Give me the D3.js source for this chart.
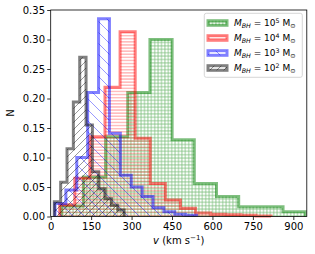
<!DOCTYPE html>
<html><head><meta charset="utf-8">
<script src="https://cdn.jsdelivr.net/npm/d3@7"></script>
<style>body{margin:0;background:#fff}svg{display:block}</style>
</head><body>
<script>
const W = 315, H = 254;
const xTicks = [0, 150, 300, 450, 600, 750, 900];
const yTicks = [0, 0.05, 0.10, 0.15, 0.20, 0.25, 0.30, 0.35];
const legendExponents = ["5", "4", "3", "2"];
const greenEdges = [38.9, 121.2, 203.5, 285.8, 368.1, 450.4, 532.7, 615.0, 697.3, 779.6, 861.9, 944.2];
const greenHeights = [0.018, 0.067, 0.135, 0.21, 0.30, 0.13, 0.056, 0.034, 0.0166, 0.0166, 0.008];
const redEdges = [33.4, 89.4, 145.4, 201.4, 257.4, 313.4, 369.4, 425.4, 481.4, 537.4, 593.4, 649.4, 705.4, 761.4, 817.4];
const redHeights = [0.02, 0.065, 0.135, 0.219, 0.313, 0.1325, 0.056, 0.028, 0.014, 0.006, 0.004, 0.003, 0.002, 0.001];
const blueEdges = [15.9, 56.3, 96.7, 137.1, 177.5, 217.9, 258.3, 298.7, 339.1, 379.5, 419.9, 460.3, 500.7, 541.1];
const blueHeights = [0.022, 0.045, 0.1, 0.21, 0.335, 0.141, 0.07, 0.05, 0.034, 0.015, 0.008, 0.004, 0.002];
const grayEdges = [13.4, 36.95, 60.5, 84.05, 107.6, 131.15, 154.7, 178.25, 201.8, 225.35, 248.9, 272.45];
const grayHeights = [0.025, 0.058, 0.115, 0.194, 0.27, 0.155, 0.076, 0.047, 0.03, 0.019, 0.011];

const series = [
  {edges: greenEdges, heights: greenHeights, color: "#008000", pat: "pg"},
  {edges: redEdges, heights: redHeights, color: "#ff0000", pat: "pr"},
  {edges: blueEdges, heights: blueHeights, color: "#0000ff", pat: "pb"},
  {edges: grayEdges, heights: grayHeights, color: "#000000", pat: "pk"}
];

const svg = d3.select("body").append("svg").attr("width", W).attr("height", H)
  .style("font-family", "DejaVu Sans, sans-serif");

const x = d3.scaleLinear().domain([0, 950]).range([50.7, 306.8]);
const y = d3.scaleLinear().domain([0, 0.35]).range([216.5, 10]);

// hatch patterns
const defs = svg.append("defs");
function pattern(id, size, d, color) {
  defs.append("pattern").attr("id", id).attr("patternUnits", "userSpaceOnUse")
    .attr("width", size).attr("height", size)
    .append("path").attr("d", d).attr("stroke", color).attr("stroke-width", 0.8).attr("fill", "none");
}
const sg = 3.4, sr = 3.1, sb = 11, sk = 7;
pattern("pg", sg, `M0,${sg/2}H${sg}M${sg/2},0V${sg}`, "#008000");
pattern("pr", sr, `M0,${sr/2}H${sr}`, "#ff0000");
pattern("pb", sb, `M0,0L${sb},${sb}M-1,${sb-1}L1,${sb+1}M${sb-1},-1L${sb+1},1`, "#0000ff");
pattern("pk", sk, `M0,${sk}L${sk},0M-1,1L1,-1M${sk-1},${sk+1}L${sk+1},${sk-1}`, "#000000");

const line = d3.line().x(d => x(d[0])).y(d => y(d[1]));
series.forEach(s => {
  const pts = [[s.edges[0], 0]];
  s.heights.forEach((h, i) => { pts.push([s.edges[i], h]); pts.push([s.edges[i + 1], h]); });
  pts.push([s.edges[s.edges.length - 1], 0]);
  svg.append("path").attr("d", line(pts))
    .attr("fill", `url(#${s.pat})`).attr("fill-opacity", 0.5)
    .attr("stroke", s.color).attr("stroke-opacity", 0.5)
    .attr("stroke-width", 3).attr("stroke-linejoin", "miter");
});

// frame
svg.append("rect").attr("x", x(0)).attr("y", y(0.35)).attr("width", x(950) - x(0)).attr("height", y(0) - y(0.35))
  .attr("fill", "none").attr("stroke", "#000").attr("stroke-width", 0.8);

const xa = svg.append("g").attr("transform", `translate(0,${y(0)})`)
  .call(d3.axisBottom(x).tickValues(xTicks).tickSize(3.5).tickPadding(3.2).tickSizeOuter(0).tickFormat(d3.format("d")));
const ya = svg.append("g").attr("transform", `translate(${x(0)},0)`)
  .call(d3.axisLeft(y).tickValues(yTicks).tickSize(3.5).tickPadding(2.2).tickSizeOuter(0).tickFormat(d3.format(".2f")));
[xa, ya].forEach(g => {
  g.select(".domain").remove();
  g.selectAll("line").attr("stroke", "#000").attr("stroke-width", 0.8);
  g.selectAll("text").attr("fill", "#000").style("font-size", "10px").style("font-family", "DejaVu Sans, sans-serif");
});

svg.append("text").attr("transform", "translate(13.5,113) rotate(-90)").attr("text-anchor", "middle")
  .style("font-size", "10px").text("N");

const xl = svg.append("text").attr("x", 178.7).attr("y", 243.5).attr("text-anchor", "middle").style("font-size", "10px");
xl.append("tspan").style("font-style", "italic").text("v");
xl.append("tspan").text(" (km s");
xl.append("tspan").attr("dy", -3.8).style("font-size", "7px").text("\u22121");
xl.append("tspan").attr("dy", 3.8).text(")");

// legend
const lg = svg.append("g");
lg.append("rect").attr("x", 204.3).attr("y", 13.3).attr("width", 98).attr("height", 64).attr("rx", 2)
  .attr("fill", "#fff").attr("fill-opacity", 0.8).attr("stroke", "#cccccc").attr("stroke-width", 0.8);
const rows = [23, 38, 53, 68];
series.forEach((s, i) => {
  const ry = rows[i];
  lg.append("rect").attr("x", 208).attr("y", ry - 2.3).attr("width", 19).attr("height", 4.6)
    .attr("fill", `url(#${s.pat})`).attr("fill-opacity", 0.5)
    .attr("stroke", s.color).attr("stroke-opacity", 0.5).attr("stroke-width", 3);
  const t = lg.append("text").attr("x", 234).attr("y", ry + 3.3).style("font-size", "9px");
  t.append("tspan").style("font-style", "italic").text("M");
  t.append("tspan").attr("dy", 1.8).style("font-size", "6.3px").style("font-style", "italic").text("BH");
  t.append("tspan").attr("dy", -1.8).text(" = 10");
  t.append("tspan").attr("dy", -3.6).style("font-size", "6.3px").text(legendExponents[i]);
  t.append("tspan").attr("dy", 3.6).text(" M");
  t.append("tspan").attr("dy", 1.8).style("font-size", "6.3px").text("\u2299");
});
</script>
</body></html>
